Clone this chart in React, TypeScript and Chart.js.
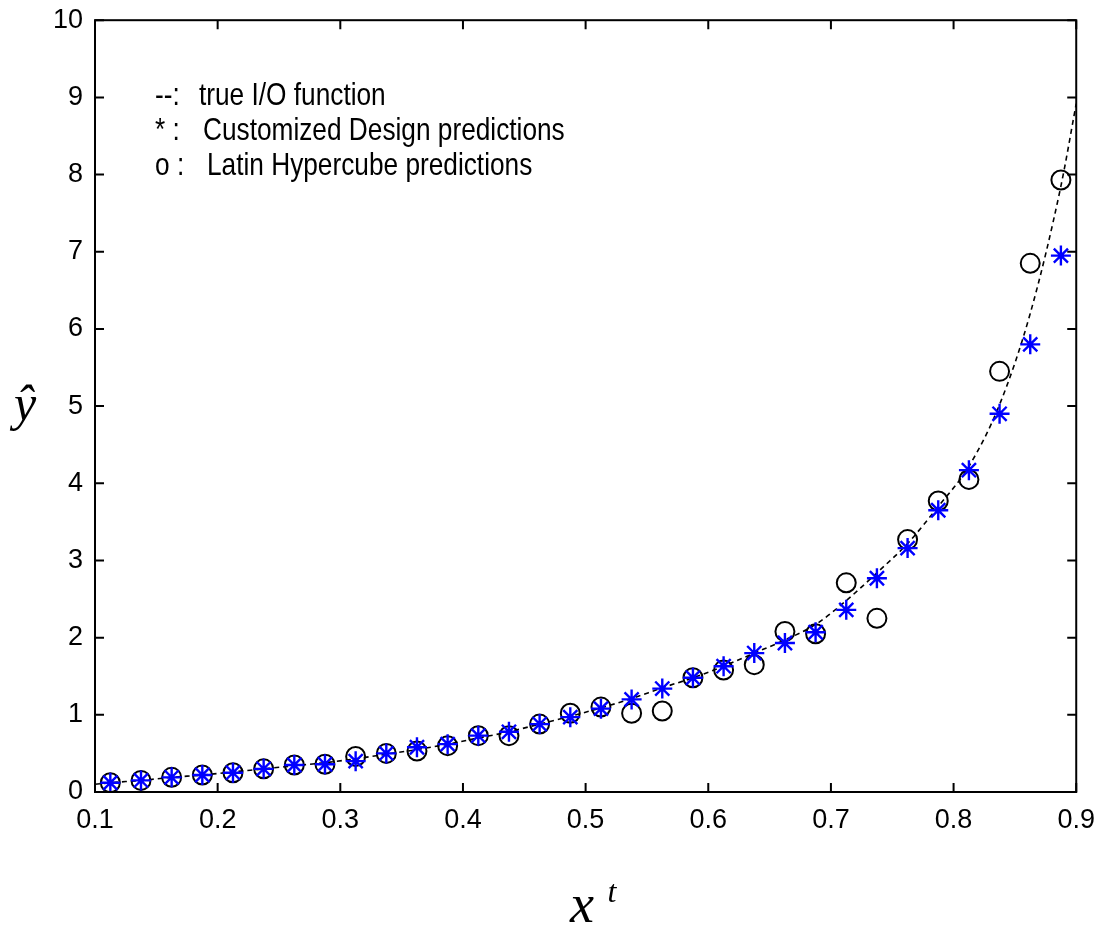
import React, { useEffect, useRef } from "react";
import { Chart, registerables } from "chart.js";

Chart.register(...registerables);

const xPoints = [
  0.1125, 0.1375, 0.1625, 0.1875, 0.2125, 0.2375, 0.2625, 0.2875,
  0.3125, 0.3375, 0.3625, 0.3875, 0.4125, 0.4375, 0.4625, 0.4875,
  0.5125, 0.5375, 0.5625, 0.5875, 0.6125, 0.6375, 0.6625, 0.6875,
  0.7125, 0.7375, 0.7625, 0.7875, 0.8125, 0.8375, 0.8625, 0.8875,
];
const customizedPred = [
  0.12, 0.15, 0.19, 0.22, 0.25, 0.30, 0.35, 0.36,
  0.40, 0.50, 0.58, 0.62, 0.73, 0.78, 0.88, 0.97,
  1.08, 1.20, 1.34, 1.48, 1.63, 1.80, 1.93, 2.07,
  2.36, 2.77, 3.16, 3.65, 4.17, 4.90, 5.80, 6.95,
];
const latinPred = [
  0.12, 0.15, 0.19, 0.22, 0.25, 0.30, 0.35, 0.36,
  0.46, 0.50, 0.53, 0.60, 0.73, 0.73, 0.88, 1.02,
  1.10, 1.02, 1.05, 1.48, 1.58, 1.65, 2.08, 2.05,
  2.71, 2.25, 3.27, 3.77, 4.05, 5.45, 6.85, 7.93,
];
const trueX = [
  0.1, 0.1125, 0.1375, 0.1625, 0.1875, 0.2125, 0.2375, 0.2625, 0.2875,
  0.3125, 0.3375, 0.3625, 0.3875, 0.4125, 0.4375, 0.4625, 0.4875,
  0.5125, 0.5375, 0.5625, 0.5875, 0.6125, 0.6375, 0.6625, 0.6875,
  0.7125, 0.7375, 0.7625, 0.7875, 0.8125, 0.8375, 0.8625, 0.8875, 0.9,
];
const trueY = [
  0.10, 0.12, 0.15, 0.19, 0.22, 0.26, 0.30, 0.34, 0.38,
  0.43, 0.49, 0.55, 0.62, 0.70, 0.78, 0.88, 0.98,
  1.09, 1.21, 1.35, 1.48, 1.63, 1.80, 1.97, 2.17,
  2.48, 2.84, 3.22, 3.70, 4.22, 5.02, 6.20, 7.85, 8.92,
];
const xTickLabels = ["0.1", "0.2", "0.3", "0.4", "0.5", "0.6", "0.7", "0.8", "0.9"];
const yTickLabels = ["0", "1", "2", "3", "4", "5", "6", "7", "8", "9", "10"];
const legendLines = [
  { mark: "--:", text: "true I/O function" },
  { mark: "* :", text: "Customized Design predictions" },
  { mark: "o :", text: "Latin Hypercube predictions" },
];

const SANS = '"Liberation Sans", Arial, sans-serif';

const framePlugin = {
  id: "frame",
  afterDraw(chart: any) {
    const { ctx, chartArea } = chart;
    const { left, right, top, bottom } = chartArea;
    ctx.save();
    ctx.strokeStyle = "#000";
    ctx.lineWidth = 2;
    ctx.strokeRect(left, top, right - left, bottom - top);
    const tl = 9;
    const xs = chart.scales.x;
    xs.ticks.forEach((t: any) => {
      const px = xs.getPixelForValue(t.value);
      ctx.beginPath();
      ctx.moveTo(px, bottom);
      ctx.lineTo(px, bottom - tl);
      ctx.moveTo(px, top);
      ctx.lineTo(px, top + tl);
      ctx.stroke();
    });
    const ys = chart.scales.y;
    ys.ticks.forEach((t: any) => {
      const py = ys.getPixelForValue(t.value);
      ctx.beginPath();
      ctx.moveTo(left, py);
      ctx.lineTo(left + tl, py);
      ctx.moveTo(right, py);
      ctx.lineTo(right - tl, py);
      ctx.stroke();
    });
    // legend text (narrowed horizontally)
    ctx.fillStyle = "#000";
    ctx.font = `32px ${SANS}`;
    ctx.textBaseline = "middle";
    ctx.textAlign = "left";
    const sx = 0.82;
    const offs = [44, 48, 52];
    legendLines.forEach((l, i) => {
      const y = 96 + i * 35;
      ctx.save();
      ctx.translate(155, y);
      ctx.scale(sx, 1);
      ctx.fillText(l.mark, 0, 0);
      ctx.fillText(l.text, offs[i] / sx, 0);
      ctx.restore();
    });
    // axis titles
    ctx.font = 'italic 50px "Liberation Serif", "Times New Roman", serif';
    ctx.textAlign = "center";
    ctx.textBaseline = "alphabetic";
    ctx.fillText("ŷ", 25, 420);
    ctx.font = 'italic 54px "Liberation Serif", "Times New Roman", serif';
    ctx.fillText("x", 582, 922);
    ctx.font = 'italic 32px "Liberation Serif", "Times New Roman", serif';
    ctx.fillText("t", 612, 902);
    ctx.restore();
  },
};

export default function App() {
  const ref = useRef<HTMLCanvasElement | null>(null);
  useEffect(() => {
    document.body.style.margin = "0";
    const canvas = ref.current!;
    const chart = new Chart(canvas, {
      type: "scatter",
      data: {
        datasets: [
          {
            label: "Customized Design predictions",
            data: xPoints.map((x, i) => ({ x, y: customizedPred[i] })),
            pointStyle: "star",
            pointRadius: 10,
            borderColor: "#0000ff",
            backgroundColor: "#0000ff",
            pointBorderWidth: 2.4,
            showLine: false,
          },
          {
            label: "Latin Hypercube predictions",
            data: xPoints.map((x, i) => ({ x, y: latinPred[i] })),
            pointStyle: "circle",
            pointRadius: 9.5,
            borderColor: "#000",
            backgroundColor: "rgba(0,0,0,0)",
            pointBorderWidth: 2,
            showLine: false,
          },
          {
            label: "true I/O function",
            data: trueX.map((x, i) => ({ x, y: trueY[i] })),
            showLine: true,
            pointRadius: 0,
            borderColor: "#000",
            borderWidth: 1.6,
            borderDash: [5, 4],
            cubicInterpolationMode: "monotone",
          } as any,
        ],
      },
      options: {
        responsive: false,
        animation: false,
        layout: { padding: { left: 0, right: 18, top: 12, bottom: 0 } },
        plugins: { legend: { display: false }, tooltip: { enabled: false } },
        scales: {
          x: {
            type: "linear",
            min: 0.1,
            max: 0.9,
            grid: { display: false },
            border: { display: false },
            ticks: {
              stepSize: 0.1,
              padding: 4,
              color: "#000",
              font: { family: SANS, size: 27 },
              maxRotation: 0,
              autoSkip: false,
              callback: (_v: any, i: number) => xTickLabels[i],
            },
            afterFit: (s: any) => {
              s.height = 144;
            },
          },
          y: {
            type: "linear",
            min: 0,
            max: 10,
            grid: { display: false },
            border: { display: false },
            ticks: {
              stepSize: 1,
              padding: 4,
              color: "#000",
              font: { family: SANS, size: 27 },
              autoSkip: false,
              callback: (_v: any, i: number) => yTickLabels[i],
            },
            afterFit: (s: any) => {
              s.width = 95;
            },
          },
        },
      },
      plugins: [framePlugin],
    });
    return () => chart.destroy();
  }, []);
  return (
    <canvas
      ref={ref}
      width={1099}
      height={936}
      style={{ display: "block", width: 1099, height: 936 }}
    />
  );
}
